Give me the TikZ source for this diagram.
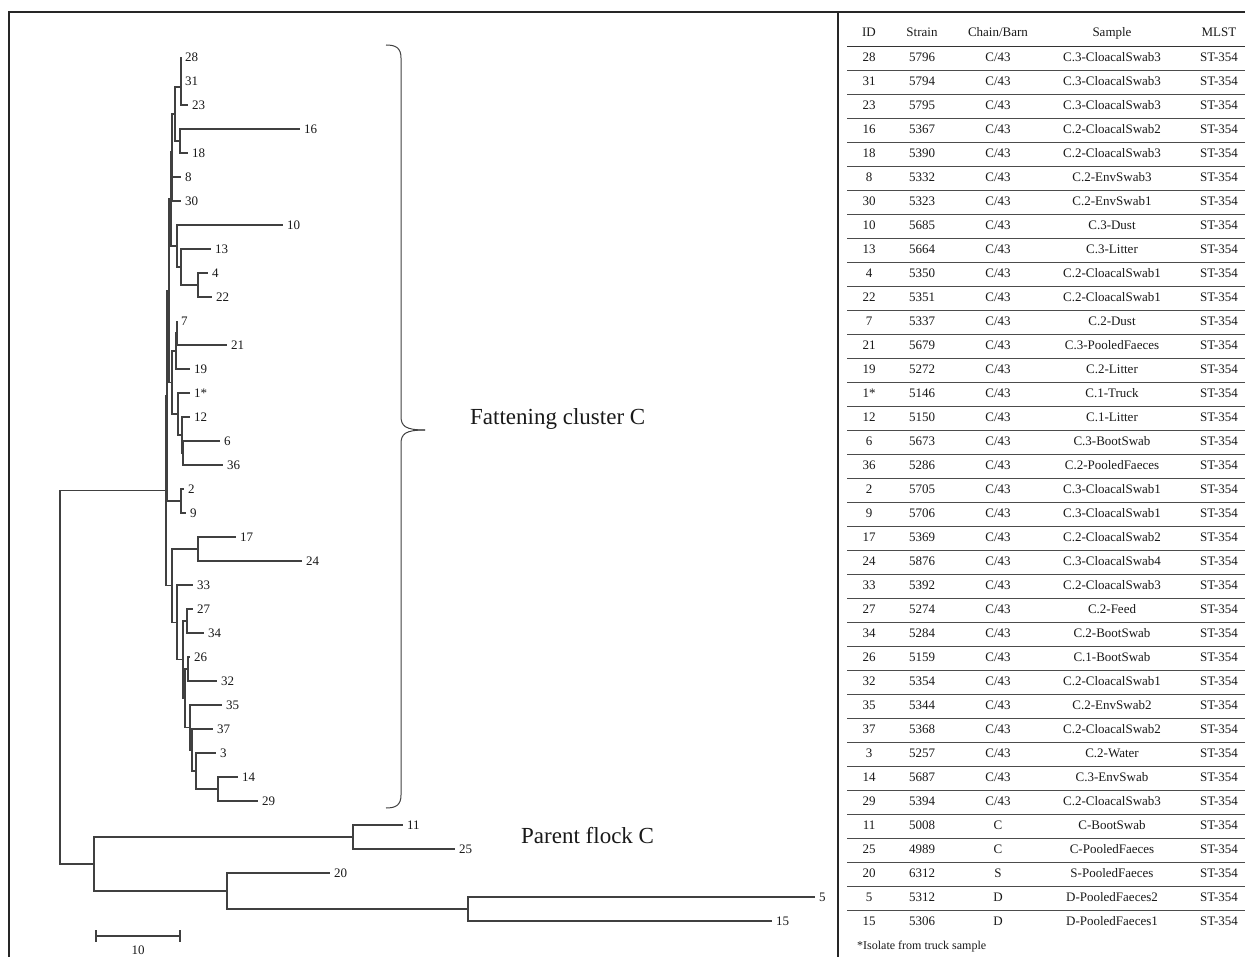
\documentclass[tikz,border=0pt]{standalone}
\usepackage{fontspec}
\setmainfont{Liberation Serif}
\newcommand{\tleaf}[4]{\coordinate (L#1) at (#2,#3);
  \node[lab] (t#1) at ([xshift=4pt,yshift=-4.5pt]L#1) {#4};}
\newcommand{\tedge}[2]{\draw[br] (#1) |- (#2);}
\newcommand{\trow}[6]{%
  \node[cell] (id#1) at (869,{61.5+24*#1}) {#2};
  \node[cell] (st#1) at (922,{61.5+24*#1}) {#3};
  \node[cell] (ch#1) at (998,{61.5+24*#1}) {#4};
  \node[cell] (sa#1) at (1112,{61.5+24*#1}) {#5};
  \node[cell] (ml#1) at (1219,{61.5+24*#1}) {#6};}
\begin{document}
\begin{tikzpicture}[x=1pt,y=-1pt,
  br/.style={line width=1.1pt,draw=black!75},
  lab/.style={anchor=base west,inner sep=0pt,font=\fontsize{13}{13}\selectfont,text=black!90},
  cell/.style={anchor=base,inner sep=0pt,font=\fontsize{13}{13}\selectfont,text=black!90},
  big/.style={anchor=west,inner sep=0pt,font=\fontsize{23}{23}\selectfont,text=black!90},
  frame/.style={line width=2pt,draw=black!85},
  rule/.style={line width=0.9pt,draw=black!70},
  hrule/.style={line width=1.8pt,draw=black!80}]
\useasboundingbox (0,0) rectangle (1245,957);
% frame
\draw[frame] (9,957) -- (9,12) -- (1245,12);
\draw[frame] (838,12) -- (838,957);
% leaves
\tleaf{28}{181}{57}{28}
\tleaf{31}{181}{81}{31}
\tleaf{23}{188}{105}{23}
\tleaf{16}{300}{129}{16}
\tleaf{18}{188}{153}{18}
\tleaf{8}{181}{177}{8}
\tleaf{30}{181}{201}{30}
\tleaf{10}{283}{225}{10}
\tleaf{13}{211}{249}{13}
\tleaf{4}{208}{273}{4}
\tleaf{22}{212}{297}{22}
\tleaf{7}{177}{321}{7}
\tleaf{21}{227}{345}{21}
\tleaf{19}{190}{369}{19}
\tleaf{1}{190}{393}{1*}
\tleaf{12}{190}{417}{12}
\tleaf{6}{220}{441}{6}
\tleaf{36}{223}{465}{36}
\tleaf{2}{184}{489}{2}
\tleaf{9}{186}{513}{9}
\tleaf{17}{236}{537}{17}
\tleaf{24}{302}{561}{24}
\tleaf{33}{193}{585}{33}
\tleaf{27}{193}{609}{27}
\tleaf{34}{204}{633}{34}
\tleaf{26}{190}{657}{26}
\tleaf{32}{217}{681}{32}
\tleaf{35}{222}{705}{35}
\tleaf{37}{213}{729}{37}
\tleaf{3}{216}{753}{3}
\tleaf{14}{238}{777}{14}
\tleaf{29}{258}{801}{29}
\tleaf{11}{403}{825}{11}
\tleaf{25}{455}{849}{25}
\tleaf{20}{330}{873}{20}
\tleaf{5}{815}{897}{5}
\tleaf{15}{772}{921}{15}
% internal nodes
\coordinate (n2831) at (181,69);
\coordinate (n23) at (181,87);
\coordinate (n1618) at (180,141);
\coordinate (nT) at (175,114);
\coordinate (n830) at (172,189);
\coordinate (nT8) at (172,151.5);
\coordinate (n422) at (198,285);
\coordinate (n13) at (181,267);
\coordinate (n10) at (177,246);
\coordinate (nI) at (171,198.75);
\coordinate (n721) at (177,333);
\coordinate (n19) at (176,351);
\coordinate (n636) at (183,453);
\coordinate (n12) at (182,435);
\coordinate (n1) at (178,414);
\coordinate (nJ) at (172,382.5);
\coordinate (nH) at (169,290.6);
\coordinate (n29) at (181,501);
\coordinate (nG) at (167,395.8);
\coordinate (n1724) at (198,549);
\coordinate (n2734) at (187,621);
\coordinate (n2632) at (188,669);
\coordinate (n1429) at (218,789);
\coordinate (n3) at (196,771);
\coordinate (n37) at (192,750);
\coordinate (n35) at (190,727.5);
\coordinate (nA) at (185,698.25);
\coordinate (nB) at (183,659.6);
\coordinate (nR) at (177,622.3);
\coordinate (nL) at (172,585.7);
\coordinate (nF) at (166,490.7);
\coordinate (n1125) at (353,837);
\coordinate (n515) at (468,909);
\coordinate (n20) at (227,891);
\coordinate (nP) at (94,864);
\coordinate (root) at (60,677.4);
% edges
\tedge{n2831}{L28}\tedge{n2831}{L31}
\tedge{n23}{n2831}\tedge{n23}{L23}
\tedge{n1618}{L16}\tedge{n1618}{L18}
\tedge{nT}{n23}\tedge{nT}{n1618}
\tedge{n830}{L8}\tedge{n830}{L30}
\tedge{nT8}{nT}\tedge{nT8}{n830}
\tedge{n422}{L4}\tedge{n422}{L22}
\tedge{n13}{L13}\tedge{n13}{n422}
\tedge{n10}{L10}\tedge{n10}{n13}
\tedge{nI}{nT8}\tedge{nI}{n10}
\tedge{n721}{L7}\tedge{n721}{L21}
\tedge{n19}{n721}\tedge{n19}{L19}
\tedge{n636}{L6}\tedge{n636}{L36}
\tedge{n12}{L12}\tedge{n12}{n636}
\tedge{n1}{L1}\tedge{n1}{n12}
\tedge{nJ}{n19}\tedge{nJ}{n1}
\tedge{nH}{nI}\tedge{nH}{nJ}
\tedge{n29}{L2}\tedge{n29}{L9}
\tedge{nG}{nH}\tedge{nG}{n29}
\tedge{n1724}{L17}\tedge{n1724}{L24}
\tedge{n2734}{L27}\tedge{n2734}{L34}
\tedge{n2632}{L26}\tedge{n2632}{L32}
\tedge{n1429}{L14}\tedge{n1429}{L29}
\tedge{n3}{L3}\tedge{n3}{n1429}
\tedge{n37}{L37}\tedge{n37}{n3}
\tedge{n35}{L35}\tedge{n35}{n37}
\tedge{nA}{n2632}\tedge{nA}{n35}
\tedge{nB}{n2734}\tedge{nB}{nA}
\tedge{nR}{L33}\tedge{nR}{nB}
\tedge{nL}{n1724}\tedge{nL}{nR}
\tedge{nF}{nG}\tedge{nF}{nL}
\tedge{n1125}{L11}\tedge{n1125}{L25}
\tedge{n515}{L5}\tedge{n515}{L15}
\tedge{n20}{L20}\tedge{n20}{n515}
\tedge{nP}{n1125}\tedge{nP}{n20}
\tedge{root}{nF}\tedge{root}{nP}
% scale bar
\coordinate (sb1) at (96,936);
\coordinate (sb2) at (180,936);
\draw[br] (sb1) -- (sb2);
\draw[br] ([yshift=6pt]sb1) -- ([yshift=-6pt]sb1);
\draw[br] ([yshift=6pt]sb2) -- ([yshift=-6pt]sb2);
\node[cell] (sbl) at (138,954) {10};
% brace
\draw[br,line width=1pt] (386,45) .. controls (396,45) and (401,48) .. (401,58) -- (401,416) .. controls (401,426) and (405,430) .. (425,430);
\draw[br,line width=1pt] (386,808) .. controls (396,808) and (401,805) .. (401,795) -- (401,444) .. controls (401,434) and (405,430) .. (425,430);
\node[big] (fat) at (470,419) {Fattening cluster C};
\node[big] (par) at (521,836) {Parent flock C};
% table
\node[cell] (hid) at (869,36.5) {ID};
\node[cell] (hst) at (922,36.5) {Strain};
\node[cell] (hch) at (998,36.5) {Chain/Barn};
\node[cell] (hsa) at (1112,36.5) {Sample};
\node[cell] (hml) at (1219,36.5) {MLST};
\draw[hrule] (847,46.5) -- (1245,46.5);
\foreach \k in {0,...,35} {\draw[rule] (847,{70+24*\k}) -- (1245,{70+24*\k});}
\trow{0}{28}{5796}{C/43}{C.3-CloacalSwab3}{ST-354}
\trow{1}{31}{5794}{C/43}{C.3-CloacalSwab3}{ST-354}
\trow{2}{23}{5795}{C/43}{C.3-CloacalSwab3}{ST-354}
\trow{3}{16}{5367}{C/43}{C.2-CloacalSwab2}{ST-354}
\trow{4}{18}{5390}{C/43}{C.2-CloacalSwab3}{ST-354}
\trow{5}{8}{5332}{C/43}{C.2-EnvSwab3}{ST-354}
\trow{6}{30}{5323}{C/43}{C.2-EnvSwab1}{ST-354}
\trow{7}{10}{5685}{C/43}{C.3-Dust}{ST-354}
\trow{8}{13}{5664}{C/43}{C.3-Litter}{ST-354}
\trow{9}{4}{5350}{C/43}{C.2-CloacalSwab1}{ST-354}
\trow{10}{22}{5351}{C/43}{C.2-CloacalSwab1}{ST-354}
\trow{11}{7}{5337}{C/43}{C.2-Dust}{ST-354}
\trow{12}{21}{5679}{C/43}{C.3-PooledFaeces}{ST-354}
\trow{13}{19}{5272}{C/43}{C.2-Litter}{ST-354}
\trow{14}{1*}{5146}{C/43}{C.1-Truck}{ST-354}
\trow{15}{12}{5150}{C/43}{C.1-Litter}{ST-354}
\trow{16}{6}{5673}{C/43}{C.3-BootSwab}{ST-354}
\trow{17}{36}{5286}{C/43}{C.2-PooledFaeces}{ST-354}
\trow{18}{2}{5705}{C/43}{C.3-CloacalSwab1}{ST-354}
\trow{19}{9}{5706}{C/43}{C.3-CloacalSwab1}{ST-354}
\trow{20}{17}{5369}{C/43}{C.2-CloacalSwab2}{ST-354}
\trow{21}{24}{5876}{C/43}{C.3-CloacalSwab4}{ST-354}
\trow{22}{33}{5392}{C/43}{C.2-CloacalSwab3}{ST-354}
\trow{23}{27}{5274}{C/43}{C.2-Feed}{ST-354}
\trow{24}{34}{5284}{C/43}{C.2-BootSwab}{ST-354}
\trow{25}{26}{5159}{C/43}{C.1-BootSwab}{ST-354}
\trow{26}{32}{5354}{C/43}{C.2-CloacalSwab1}{ST-354}
\trow{27}{35}{5344}{C/43}{C.2-EnvSwab2}{ST-354}
\trow{28}{37}{5368}{C/43}{C.2-CloacalSwab2}{ST-354}
\trow{29}{3}{5257}{C/43}{C.2-Water}{ST-354}
\trow{30}{14}{5687}{C/43}{C.3-EnvSwab}{ST-354}
\trow{31}{29}{5394}{C/43}{C.2-CloacalSwab3}{ST-354}
\trow{32}{11}{5008}{C}{C-BootSwab}{ST-354}
\trow{33}{25}{4989}{C}{C-PooledFaeces}{ST-354}
\trow{34}{20}{6312}{S}{S-PooledFaeces}{ST-354}
\trow{35}{5}{5312}{D}{D-PooledFaeces2}{ST-354}
\trow{36}{15}{5306}{D}{D-PooledFaeces1}{ST-354}
\node[anchor=base west,inner sep=0pt,font=\fontsize{12}{12}\selectfont,text=black!90] (foot) at (857,949) {*Isolate from truck sample};
\end{tikzpicture}
\end{document}
